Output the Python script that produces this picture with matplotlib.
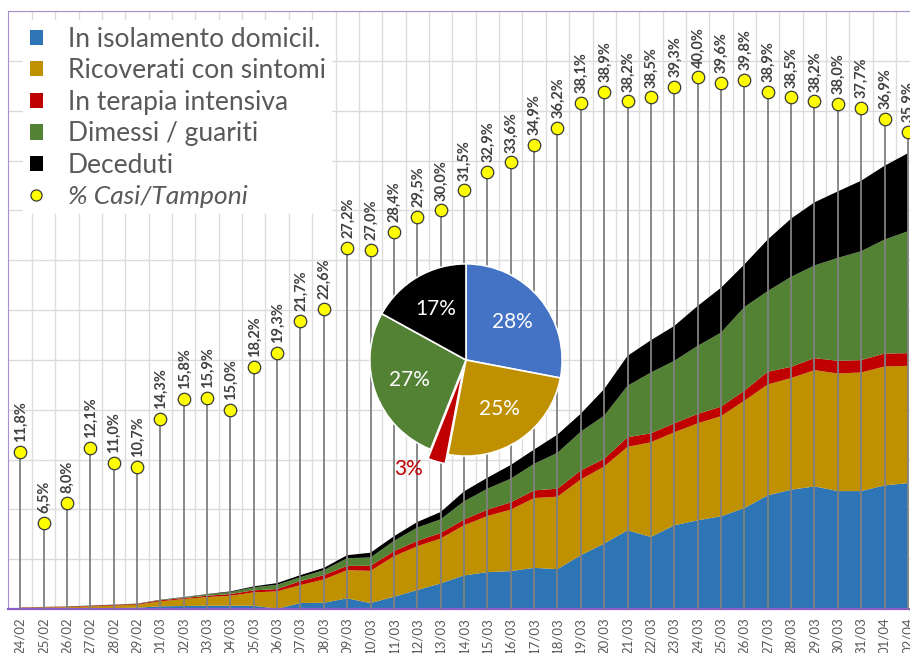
"""
Lombardia - casi COVID-19 per stato clinico, con % casi/tamponi e torta all'ultimo giorno.
Saves out.png
"""

import numpy as np
import matplotlib
matplotlib.use("Agg")
import matplotlib.pyplot as plt
from matplotlib.lines import Line2D
from matplotlib.patches import Patch

plt.rcParams["font.family"] = ["Lato", "DejaVu Sans"]

dates = ["24/02", "25/02", "26/02", "27/02", "28/02", "29/02",
         "01/03", "02/03", "03/03", "04/03", "05/03", "06/03", "07/03",
         "08/03", "09/03", "10/03", "11/03", "12/03", "13/03", "14/03",
         "15/03", "16/03", "17/03", "18/03", "19/03", "20/03", "21/03",
         "22/03", "23/03", "24/03", "25/03", "26/03", "27/03", "28/03",
         "29/03", "30/03", "31/03", "01/04", "02/04"]

isolamento = [50, 50, 60, 80, 100, 130, 270, 300, 330, 330, 330, 20, 600,
              630, 1070, 600, 1230, 1900, 2570, 3370, 3700, 3800, 4130, 4000,
              5400, 6570, 7900, 7230, 8400, 8900, 9300, 10130, 11400, 11970,
              12300, 11830, 11830, 12400, 12630]
ricoverati = [80, 120, 130, 180, 240, 300, 500, 700, 870, 1000, 1340, 1750, 1800,
              2340, 2830, 3230, 4070, 4400, 4500, 5030, 5630, 6170, 7000, 7270,
              7600, 7730, 8370, 9500, 9330, 9730, 10050, 10770, 11130, 11200,
              11670, 11800, 11900, 11930, 11770]
terapia_int = [20, 30, 40, 60, 70, 70, 100, 100, 130, 170, 200, 230, 400,
               430, 430, 500, 500, 530, 560, 570, 640, 730, 770, 800,
               900, 770, 960, 900, 900, 940, 950, 1000, 1270, 1130,
               1200, 1270, 1240, 1300, 1270]
dimessi = [0, 0, 0, 10, 10, 20, 30, 70, 140, 200, 300, 430, 400,
           500, 770, 840, 1030, 1340, 1370, 1830, 2100, 2370, 2670, 3600,
           3900, 4330, 5170, 6100, 6270, 6830, 7430, 8400, 8100, 9030,
           9300, 10330, 10930, 11440, 12230]
deceduti = [10, 10, 20, 20, 20, 20, 30, 30, 30, 70, 100, 170, 200,
            230, 300, 480, 470, 560, 730, 1000, 1100, 1380, 1430, 1830,
            1800, 2670, 3000, 3240, 3500, 4000, 4500, 4270, 5170, 5840,
            6330, 6670, 7070, 7400, 7830]

pct_casi_tamponi = [11.8, 6.5, 8.0, 12.1, 11.0, 10.7, 14.3, 15.8, 15.9, 15.0,
                    18.2, 19.3, 21.7, 22.6, 27.2, 27.0, 28.4, 29.5, 30.0, 31.5,
                    32.9, 33.6, 34.9, 36.2, 38.1, 38.9, 38.2, 38.5, 39.3, 40.0,
                    39.6, 39.8, 38.9, 38.5, 38.2, 38.0, 37.7, 36.9, 35.9]

series_names = ["In isolamento domicil.", "Ricoverati con sintomi",
                "In terapia intensiva", "Dimessi / guariti", "Deceduti"]
pct_name = "% Casi/Tamponi"

pie_pct = [28, 25, 3, 27, 17]

_AREA = ["#2E75B6", "#BF9000", "#C00000", "#548235", "#000000"]
_PIE = ["#4472C4", "#BF9000", "#C00000", "#548235", "#000000"]
_GRID = "#DCDCDC"
_TEXT = "#595959"
_LBL = "#404040"
_STEM = "#808080"
_FRAME = "#A890CC"
_AXIS = "#8A5CC8"
_YELLOW = "#FFFF00"

W, H = 910, 653
fig = plt.figure(figsize=(W / 100, H / 100), dpi=100, facecolor="white")

# ---- stacked areas -------------------------------------------------------
ax = fig.add_axes([8 / W, 44 / H, 902 / W, 598 / H])
x = np.arange(len(dates))
ax.stackplot(x, isolamento, ricoverati, terapia_int, dimessi, deceduti,
             colors=_AREA, lw=0)
ax.set_xlim(-0.52, 38.09)
ax.set_ylim(0, 60000)
ax.set_yticks(np.arange(0, 60001, 5000))
ax.set_xticks(x)
ax.set_xticklabels(dates, rotation=90, color=_TEXT, fontsize=9.5)
ax.set_xticks(x[:-1] + 0.5, minor=True)
ax.grid(axis="y", color=_GRID, lw=1)
ax.grid(axis="x", which="minor", color=_GRID, lw=1)
ax.tick_params(axis="x", which="both", length=0, pad=6)
ax.tick_params(axis="y", length=0, labelleft=False)
ax.set_axisbelow(True)
ax.spines["right"].set_visible(False)
ax.spines["left"].set_color(_FRAME)
ax.spines["top"].set_color(_FRAME)
ax.spines["bottom"].set_color(_AXIS)
ax.spines["bottom"].set_linewidth(1.6)

# ---- % casi/tamponi lollipops -------------------------------------------
ax2 = ax.twinx()
ax2.set_ylim(0, 45)
ax2.vlines(x, 0, pct_casi_tamponi, color=_STEM, lw=1.3, zorder=2)
ax2.plot(x, pct_casi_tamponi, "o", ms=9, mfc=_YELLOW, mec="#3A3A3A",
         mew=0.9, ls="none", zorder=3)
for xi, v in zip(x, pct_casi_tamponi):
    ax2.annotate(f"{v:.1f}%".replace(".", ","), (xi, v), xytext=(0.5, 7),
                 textcoords="offset points", rotation=90, ha="center",
                 va="bottom", fontsize=10.5, color=_LBL, fontweight="bold")
ax2.tick_params(axis="y", length=0, labelright=False)
for sp in ax2.spines.values():
    sp.set_visible(False)

handles = [Patch(facecolor=c, edgecolor="none") for c in _AREA]
handles.append(Line2D([], [], marker="o", ls="none", ms=8, mfc=_YELLOW,
                      mec="#3A3A3A", mew=0.9))
leg = ax2.legend(handles, series_names + [pct_name], loc="upper left",
                 bbox_to_anchor=(23 / W, 1 - 20 / H),
                 bbox_transform=fig.transFigure, fontsize=19,
                 labelcolor=_TEXT, frameon=True, facecolor="white",
                 edgecolor="none", framealpha=1, fancybox=False,
                 handlelength=0.5, handleheight=0.5, handletextpad=0.95,
                 labelspacing=0.25, borderpad=0.25, borderaxespad=0)
leg.get_texts()[-1].set_fontstyle("italic")
leg.set_zorder(10)

# ---- pie at last day -----------------------------------------------------
cx, cy, half = 466, 360, 125
pax = fig.add_axes([(cx - half) / W, (H - cy - half) / H, 2 * half / W, 2 * half / H])
wedges, texts, autotexts = pax.pie(
    pie_pct, colors=_PIE, startangle=90, counterclock=False,
    explode=[0, 0, 0.1, 0, 0], radius=1,
    autopct=lambda p: f"{p:.0f}%", pctdistance=0.62,
    textprops=dict(color="white", fontsize=15),
    wedgeprops=dict(edgecolor="white", linewidth=1.2))
autotexts[2].set_position((-0.6, -1.13))
autotexts[2].set_color(_PIE[2])
pax.set_xlim(-1.3, 1.3)
pax.set_ylim(-1.3, 1.3)
pax.set_aspect("equal")
pax.axis("off")

fig.savefig("out.png", dpi=100, facecolor="white")
